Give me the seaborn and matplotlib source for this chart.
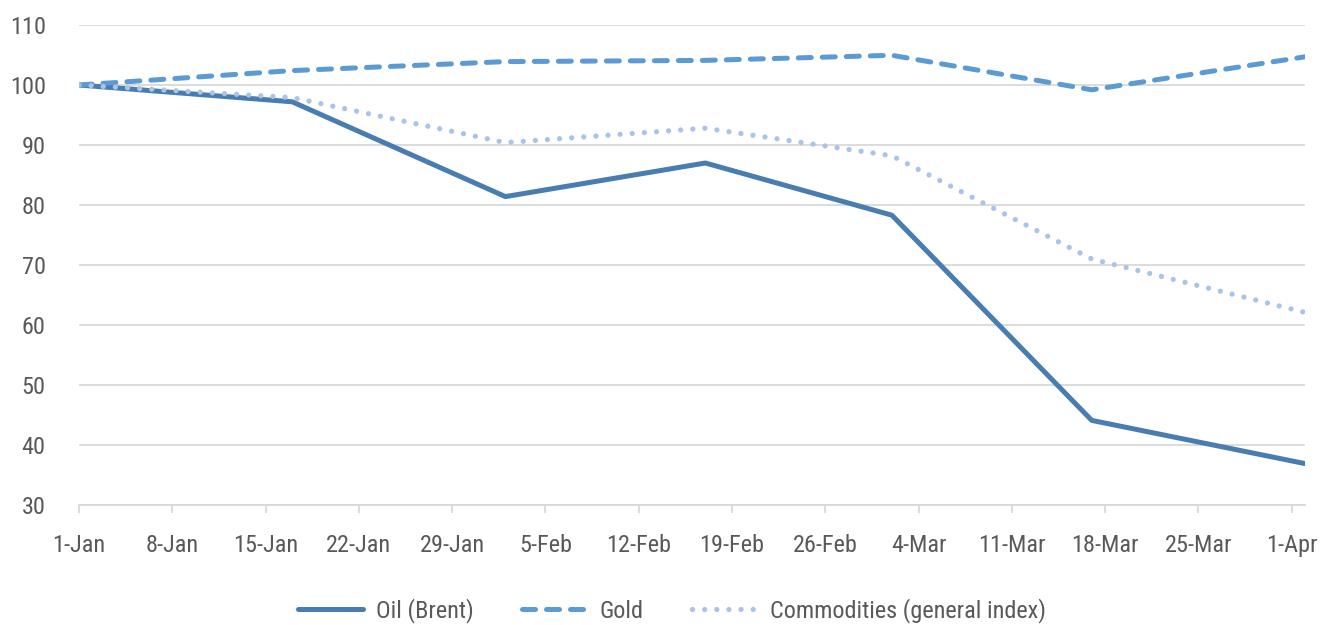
import matplotlib
matplotlib.use("Agg")
import matplotlib.pyplot as plt
import seaborn as sns
import pandas as pd

dates = ["2020-01-01", "2020-01-17", "2020-02-02", "2020-02-17", "2020-03-02", "2020-03-17", "2020-04-02"]
oil = [100, 97.2, 81.4, 87.0, 78.3, 44.1, 36.9]
gold = [100, 102.4, 103.9, 104.1, 104.95, 99.2, 104.7]
commodities = [100, 97.9, 90.4, 92.8, 88.2, 71.0, 62.1]
series_names = ["Oil (Brent)", "Gold", "Commodities (general index)"]
y_ticks = [30, 40, 50, 60, 70, 80, 90, 100, 110]

sns.set_theme(style="white")
plt.rcParams["font.family"] = ["Roboto Condensed", "Lato", "DejaVu Sans"]

TEXT = "#595959"
GRID = "#D9D9D9"
colors = ["#477DB1", "#5B9BD5", "#A9C4E7"]
FS = 17.5

x = pd.to_datetime(dates)
df = pd.DataFrame({"date": x, "oil": oil, "gold": gold, "comm": commodities})

fig = plt.figure(figsize=(13.44, 6.25), dpi=100)
ax = fig.add_axes([79 / 1344, 1 - 505 / 625, (1305 - 79) / 1344, 480 / 625])

sns.lineplot(data=df, x="date", y="oil", ax=ax, color=colors[0], lw=3.6, label=series_names[0])
sns.lineplot(data=df, x="date", y="gold", ax=ax, color=colors[1], lw=3.6, label=series_names[1])
sns.lineplot(data=df, x="date", y="comm", ax=ax, color=colors[2], lw=3.8, label=series_names[2])

lines = ax.get_lines()
lines[0].set_solid_capstyle("round")
lines[1].set_linestyle((0, (2.6, 2.2)))
lines[1].set_dash_capstyle("round")
lines[2].set_linestyle((0, (0.001, 2.3)))
lines[2].set_dash_capstyle("round")

ax.set_xlim(pd.Timestamp("2020-01-01"), pd.Timestamp("2020-04-02"))
ax.set_ylim(30, 110)
ax.set_yticks(y_ticks)
ticks = pd.date_range("2020-01-01", "2020-04-01", freq="7D")
ax.set_xticks(ticks)
ax.set_xticklabels([f"{d.day}-{d.strftime('%b')}" for d in ticks])

ax.grid(axis="y", color=GRID, lw=1.3)
ax.grid(axis="x", visible=False)
for s in ["top", "right", "left"]:
    ax.spines[s].set_visible(False)
ax.spines["bottom"].set_color(GRID)
ax.spines["bottom"].set_linewidth(1.3)
ax.set_xlabel("")
ax.set_ylabel("")
ax.tick_params(axis="x", which="major", bottom=True, length=6, width=1.3, color=GRID,
               labelsize=FS, labelcolor=TEXT, pad=15)
ax.tick_params(axis="y", length=0, labelsize=FS, labelcolor=TEXT, pad=24)

ax.get_legend().remove()
handles = ax.get_lines()[:3]
fig.legend(handles, series_names, loc="center", bbox_to_anchor=(0.5, 1 - 611 / 625), ncol=3,
           frameon=False, fontsize=FS, labelcolor=TEXT, handlelength=2.7, handletextpad=0.5,
           columnspacing=2.0)

fig.savefig("out.png", dpi=100)
